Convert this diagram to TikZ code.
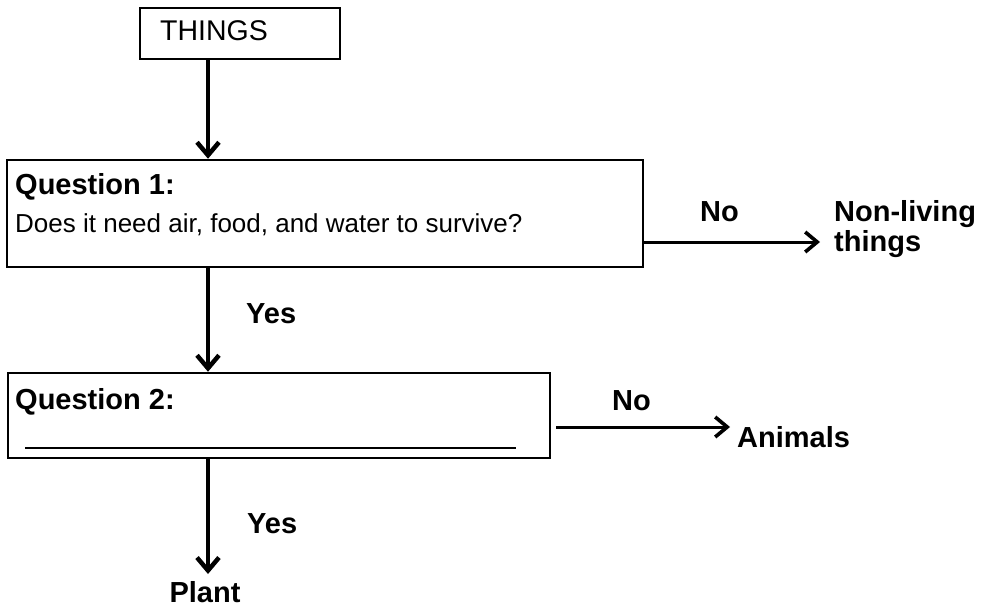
\documentclass[tikz,border=0pt]{standalone}
\usepackage{fontspec}
\setmainfont{Liberation Sans}
\usetikzlibrary{arrows.meta}
\begin{document}
\begin{tikzpicture}[x=1pt,y=-1pt,
  box/.style={draw, line width=2.5pt, inner sep=0pt},
  varr/.style={line width=4.5pt, -{Straight Barb[length=13pt,width=22pt,line width=4.5pt]}},
  harr/.style={line width=3pt, -{Straight Barb[length=12pt,width=20pt,line width=3.6pt]}},
  lab/.style={inner sep=0pt, anchor=base west, font=\fontsize{26}{30}\selectfont},
  blab/.style={lab, font=\fontsize{29}{33}\selectfont\bfseries}]
\useasboundingbox (0,0) rectangle (995,610);
% boxes
\node[box, minimum width=200pt, minimum height=51pt] (things) at (240,33.5) {};
\node[box, minimum width=636pt, minimum height=107pt] (q1) at (325,213.5) {};
\node[box, minimum width=542pt, minimum height=85pt] (q2) at (279,415.5) {};
% texts
\node[lab, font=\fontsize{28.5}{32}\selectfont] (tthings) at (160,41) {THINGS};
\node[blab] (q1a) at (15,194) {Question 1:};
\node[lab] (q1b) at (15,232) {Does it need air, food, and water to survive?};
\node[blab] (no1) at (700,221) {No};
\node[blab] (nl1) at (834,221) {Non-living};
\node[blab] (nl2) at (834,251) {things};
\node[blab] (yes1) at (246,323) {Yes};
\node[blab] (q2a) at (15,409) {Question 2:};
\node[blab] (no2) at (612,410) {No};
\node[blab] (anim) at (737,447) {Animals};
\node[blab] (yes2) at (247,533) {Yes};
\node[blab, anchor=base] (plant) at (205,602) {Plant};
% blank answer line
\draw[line width=2pt] (25,448) -- (516,448);
% connectors
\coordinate (c1) at (208,0);
\draw[varr] (things.south -| c1) -- (q1.north -| c1);
\draw[varr] (q1.south -| c1) -- (q2.north -| c1);
\coordinate (pl) at (208,574);
\draw[varr] (q2.south -| c1) -- (pl);
\coordinate (nlc) at (820,242);
\draw[harr] (q1.east |- nlc) -- (nlc);
\coordinate (anc) at (730,427);
\draw[harr, shorten <=5pt] (q2.east |- anc) -- (anc);
\end{tikzpicture}
\end{document}
